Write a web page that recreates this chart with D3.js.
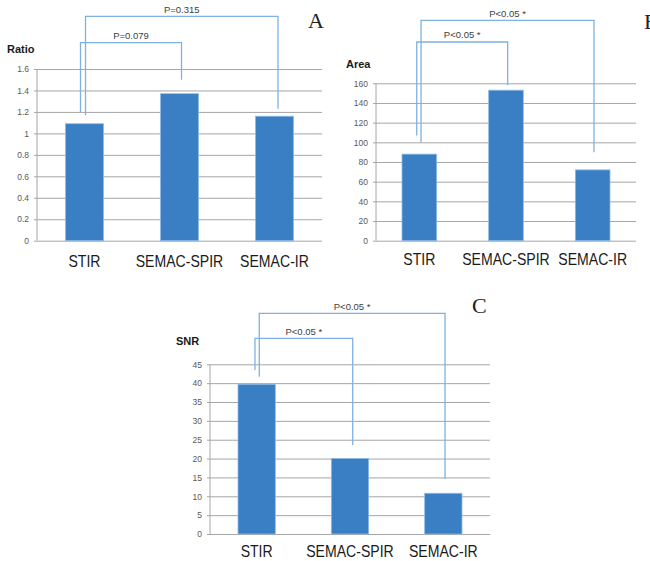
<!DOCTYPE html>
<html>
<head>
<meta charset="utf-8">
<script src="https://cdn.jsdelivr.net/npm/d3@7"></script>
<style>
  body { margin: 0; background: #fff; }
  svg { display: block; font-family: "Liberation Sans", Arial, sans-serif; }
</style>
</head>
<body>
<svg id="chart" width="650" height="561"></svg>
<script>
// data
const categories = ["STIR", "SEMAC-SPIR", "SEMAC-IR"];

const ratioValues = [1.09, 1.37, 1.16];
const ratioTicks = [0, 0.2, 0.4, 0.6, 0.8, 1, 1.2, 1.4, 1.6];
const ratioTickLabels = ["0", "0.2", "0.4", "0.6", "0.8", "1", "1.2", "1.4", "1.6"];
const ratioPLabels = ["P=0.079", "P=0.315"];

const areaValues = [88, 153, 72];
const areaTicks = [0, 20, 40, 60, 80, 100, 120, 140, 160];
const areaPLabels = ["P<0.05 *", "P<0.05 *"];

const snrValues = [39.7, 20, 10.8];
const snrTicks = [0, 5, 10, 15, 20, 25, 30, 35, 40, 45];
const snrPLabels = ["P<0.05 *", "P<0.05 *"];

// bracket heights in data units: [top, left leg end, right leg end]
const ratioBrackets = [[1.845, 1.2, 1.5], [2.09, 1.17, 1.23]];
const areaBrackets = [[202, 107, 158], [224, 100, 90]];
const snrBrackets = [[51.9, 43.5, 23.6], [58.5, 41.7, 14.6]];
const bracketTargets = [1, 2]; // STIR vs SEMAC-SPIR, STIR vs SEMAC-IR

const svg = d3.select("#chart");

function drawPanel(p) {
  const w = p.x1 - p.x0;
  const g = svg.append("g").attr("transform", `translate(${p.x0},0)`);

  const x = d3.scaleBand().domain(categories).range([0, w])
    .paddingInner(0.6).paddingOuter(0.3);
  const y = d3.scaleLinear().domain([0, p.max]).range([p.yBottom, p.yTop]);

  const yAxis = g.append("g")
    .call(d3.axisLeft(y).tickValues(p.ticks).tickSize(3).tickPadding(5)
      .tickFormat((d, i) => p.tickLabels[i]));
  yAxis.select(".domain").attr("stroke", "#a6a6a6").attr("d", `M0,${p.yTop}V${p.yBottom}`);
  yAxis.selectAll(".tick line").attr("x1", -3).attr("x2", w).attr("stroke", "#a6a6a6");
  yAxis.selectAll(".tick text").attr("fill", "#595959").style("font-size", "8.5px");

  const xAxis = g.append("g")
    .attr("transform", `translate(0,${p.yBottom})`)
    .call(d3.axisBottom(x).tickSize(0).tickPadding(p.labelPad));
  xAxis.select(".domain").remove();
  xAxis.selectAll(".tick text")
    .attr("fill", "#1a1a1a")
    .attr("dy", "0.72em")
    .attr("transform", "scale(0.88,1)")
    .style("font-size", "16px");

  g.selectAll("rect.bar")
    .data(p.values)
    .enter()
    .append("rect")
    .attr("class", "bar")
    .attr("x", (d, i) => x(categories[i]))
    .attr("width", x.bandwidth())
    .attr("y", (d) => y(d))
    .attr("height", (d) => y(0) - y(d))
    .attr("fill", "#3a7ec4")
    .attr("stroke", "#8fbbe6")
    .attr("stroke-width", 0.8);

  // significance brackets
  const cx = (i) => x(categories[i]) + x.bandwidth() / 2;
  p.brackets.forEach((b, k) => {
    const lx = cx(0) + p.legOffsets[k][0];
    const rx = cx(bracketTargets[k]) + p.legOffsets[k][1];
    g.append("path")
      .attr("d", `M${lx},${y(b[1])}V${y(b[0])}H${rx}V${y(b[2])}`)
      .attr("fill", "none")
      .attr("stroke", "#7fb1e2")
      .attr("stroke-width", 1.3);
    g.append("text")
      .attr("x", (lx + rx) / 2)
      .attr("y", y(b[0]) - 3.5)
      .attr("text-anchor", "middle")
      .attr("fill", "#404040")
      .style("font-size", "9.5px")
      .text(p.pLabels[k]);
  });

  svg.append("text")
    .attr("x", p.titleX)
    .attr("y", p.titleY)
    .attr("fill", "#1a1a1a")
    .style("font-size", "11px")
    .style("font-weight", "bold")
    .text(p.title);

  svg.append("text")
    .attr("x", p.letterX)
    .attr("y", p.letterY)
    .attr("fill", "#222")
    .style("font-family", "'Liberation Serif', 'DejaVu Serif', serif")
    .style("font-size", "22px")
    .text(p.letter);
}

drawPanel({
  x0: 37, x1: 322, yTop: 69, yBottom: 240.7, max: 1.6,
  values: ratioValues, ticks: ratioTicks, tickLabels: ratioTickLabels,
  brackets: ratioBrackets, pLabels: ratioPLabels, legOffsets: [[-4, 2], [1, 3.5]],
  labelPad: 14.5, title: "Ratio", titleX: 7, titleY: 52.5,
  letter: "A", letterX: 308, letterY: 28
});

drawPanel({
  x0: 376, x1: 636, yTop: 83.3, yBottom: 240.7, max: 160,
  values: areaValues, ticks: areaTicks, tickLabels: areaTicks.map(String),
  brackets: areaBrackets, pLabels: areaPLabels, legOffsets: [[-2.6, 1.7], [1.7, 1.3]],
  labelPad: 13, title: "Area", titleX: 346, titleY: 68,
  letter: "B", letterX: 644, letterY: 28.5
});

drawPanel({
  x0: 210, x1: 490, yTop: 364.3, yBottom: 534, max: 45,
  values: snrValues, ticks: snrTicks, tickLabels: snrTicks.map(String),
  brackets: snrBrackets, pLabels: snrPLabels, legOffsets: [[-1.7, 2.7], [2.6, 1.7]],
  labelPad: 11, title: "SNR", titleX: 176, titleY: 345,
  letter: "C", letterX: 472, letterY: 312.5
});
</script>
</body>
</html>
